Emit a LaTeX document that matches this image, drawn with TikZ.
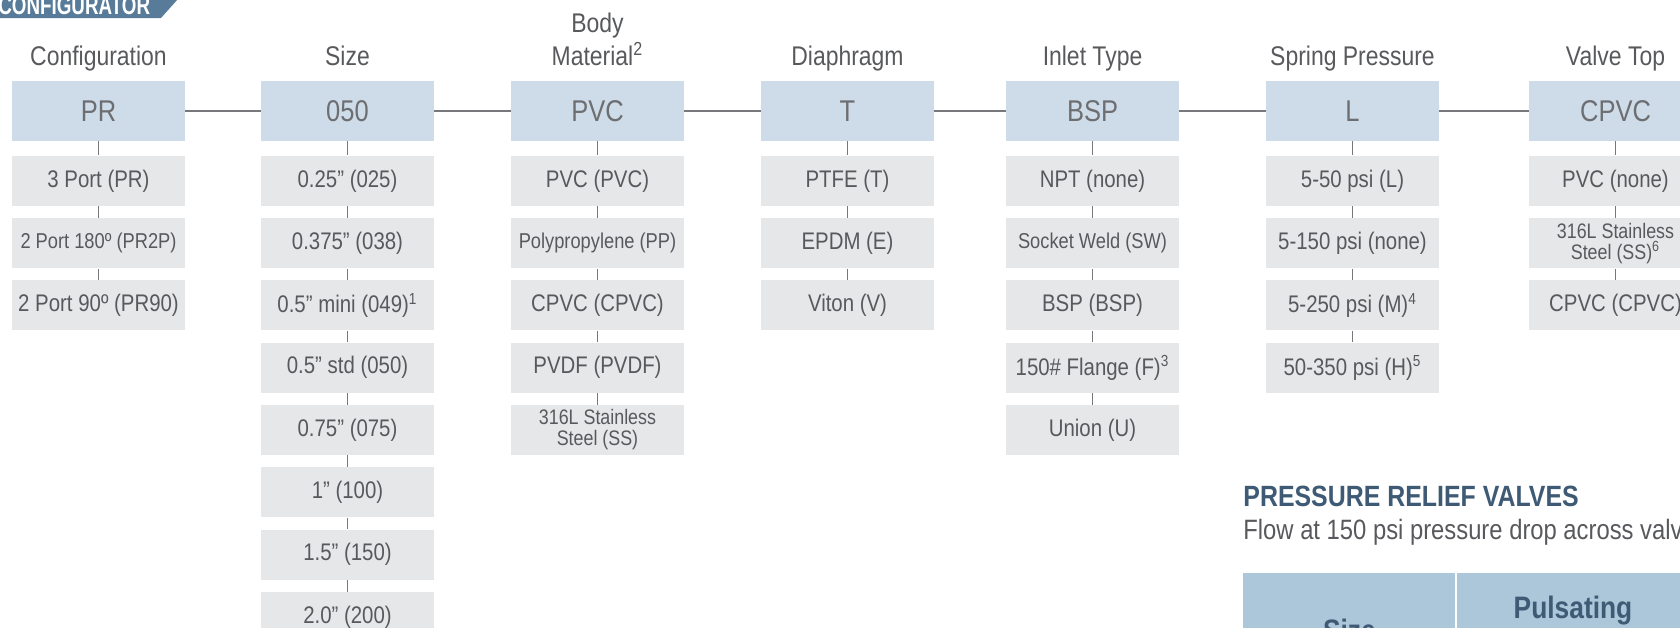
\documentclass[tikz,border=0pt]{standalone}
\usepackage{fontspec}
\setmainfont{Liberation Sans}[FakeStretch=0.85]
\usepackage{tikz}
\usetikzlibrary{positioning}
\definecolor{hdrblue}{HTML}{CDDCE8}
\definecolor{optgray}{HTML}{E6E7E8}
\definecolor{txtgray}{HTML}{58595C}
\definecolor{hdrtxt}{HTML}{6D6E71}
\definecolor{linegray}{HTML}{77787B}
\definecolor{bannerblue}{HTML}{577B99}
\definecolor{titleblue}{HTML}{3E5A75}
\definecolor{tblblue}{HTML}{ACC6DA}

\begin{document}
\begin{tikzpicture}[x=0.5pt, y=-0.5pt, node distance=5.75pt, hdr/.style={fill=hdrblue,text=hdrtxt,minimum width=86.5pt,minimum height=30pt,inner sep=0pt,font=\fontsize{15}{18}\selectfont}, opt/.style={fill=optgray,text=txtgray,minimum width=86.5pt,minimum height=25pt,inner sep=0pt,align=center,font=\fontsize{12}{14}\selectfont}, optsmall/.style={font=\fontsize{10.75}{12}\selectfont}, twoline/.style={font=\fontsize{10.5}{10.5}\selectfont}, lbl/.style={anchor=south,inner sep=0pt,text depth=0pt,align=center,text=txtgray,font=\fontsize{13.5}{16.5}\selectfont}, link/.style={draw=linegray,line width=0.65pt}]
\useasboundingbox (0,0) rectangle (1680,627);
\clip (0,0) rectangle (1680,627);
\fill[bannerblue] (0,-10) -- (186,-10) -- (161,18) -- (0,18) -- cycle;
\node[anchor=base west,inner sep=0pt,text=white,font=\fontsize{13}{14}\selectfont\bfseries] (banner) at (-2,14) {\scalebox{0.85}[1]{CONFIGURATOR}};
\node[hdr] (pr) at (98.5,111) {PR};
\node[hdr] (sz) at (347.5,111) {050};
\node[hdr] (bm) at (597.5,111) {PVC};
\node[hdr] (dia) at (847.5,111) {T};
\node[hdr] (inl) at (1092.5,111) {BSP};
\node[hdr] (spr) at (1352.5,111) {L};
\node[hdr] (vt) at (1615.5,111) {CPVC};
\node[lbl] (prlbl) at (98.5,66) {Configuration};
\node[lbl] (szlbl) at (347.5,66) {Size};
\node[lbl] (bmlbl) at (597.5,66) {Body\\Material\textsuperscript{2}};
\node[lbl] (dialbl) at (847.5,66) {Diaphragm};
\node[lbl] (inllbl) at (1092.5,66) {Inlet Type};
\node[lbl] (sprlbl) at (1352.5,66) {Spring Pressure};
\node[lbl] (vtlbl) at (1615.5,66) {Valve Top};
\node[opt,below=7pt of pr] (pr1) {3 Port (PR)};
\node[opt,optsmall,below=of pr1] (pr2) {2 Port 180º (PR2P)};
\node[opt,below=of pr2] (pr3) {2 Port 90º (PR90)};
\node[opt,below=7pt of sz] (sz1) {0.25” (025)};
\node[opt,below=of sz1] (sz2) {0.375” (038)};
\node[opt,below=of sz2] (sz3) {0.5” mini (049)\textsuperscript{1}};
\node[opt,below=of sz3] (sz4) {0.5” std (050)};
\node[opt,below=of sz4] (sz5) {0.75” (075)};
\node[opt,below=of sz5] (sz6) {1” (100)};
\node[opt,below=of sz6] (sz7) {1.5” (150)};
\node[opt,below=of sz7] (sz8) {2.0” (200)};
\node[opt,below=7pt of bm] (bm1) {PVC (PVC)};
\node[opt,optsmall,below=of bm1] (bm2) {Polypropylene (PP)};
\node[opt,below=of bm2] (bm3) {CPVC (CPVC)};
\node[opt,below=of bm3] (bm4) {PVDF (PVDF)};
\node[opt,twoline,below=of bm4] (bm5) {316L Stainless\\Steel (SS)};
\node[opt,below=7pt of dia] (dia1) {PTFE (T)};
\node[opt,below=of dia1] (dia2) {EPDM (E)};
\node[opt,below=of dia2] (dia3) {Viton (V)};
\node[opt,below=7pt of inl] (inl1) {NPT (none)};
\node[opt,optsmall,below=of inl1] (inl2) {Socket Weld (SW)};
\node[opt,below=of inl2] (inl3) {BSP (BSP)};
\node[opt,below=of inl3] (inl4) {150\# Flange (F)\textsuperscript{3}};
\node[opt,below=of inl4] (inl5) {Union (U)};
\node[opt,below=7pt of spr] (spr1) {5-50 psi (L)};
\node[opt,below=of spr1] (spr2) {5-150 psi (none)};
\node[opt,below=of spr2] (spr3) {5-250 psi (M)\textsuperscript{4}};
\node[opt,below=of spr3] (spr4) {50-350 psi (H)\textsuperscript{5}};
\node[opt,below=7pt of vt] (vt1) {PVC (none)};
\node[opt,twoline,below=of vt1] (vt2) {316L Stainless\\Steel (SS)\textsuperscript{6}};
\node[opt,below=of vt2] (vt3) {CPVC (CPVC)};
\draw[link] (pr)--(sz);
\draw[link] (sz)--(bm);
\draw[link] (bm)--(dia);
\draw[link] (dia)--(inl);
\draw[link] (inl)--(spr);
\draw[link] (spr)--(vt);
\draw[link] (pr)--(pr1);
\draw[link] (pr1)--(pr2);
\draw[link] (pr2)--(pr3);
\draw[link] (sz)--(sz1);
\draw[link] (sz1)--(sz2);
\draw[link] (sz2)--(sz3);
\draw[link] (sz3)--(sz4);
\draw[link] (sz4)--(sz5);
\draw[link] (sz5)--(sz6);
\draw[link] (sz6)--(sz7);
\draw[link] (sz7)--(sz8);
\draw[link] (bm)--(bm1);
\draw[link] (bm1)--(bm2);
\draw[link] (bm2)--(bm3);
\draw[link] (bm3)--(bm4);
\draw[link] (bm4)--(bm5);
\draw[link] (dia)--(dia1);
\draw[link] (dia1)--(dia2);
\draw[link] (dia2)--(dia3);
\draw[link] (inl)--(inl1);
\draw[link] (inl1)--(inl2);
\draw[link] (inl2)--(inl3);
\draw[link] (inl3)--(inl4);
\draw[link] (inl4)--(inl5);
\draw[link] (spr)--(spr1);
\draw[link] (spr1)--(spr2);
\draw[link] (spr2)--(spr3);
\draw[link] (spr3)--(spr4);
\draw[link] (vt)--(vt1);
\draw[link] (vt1)--(vt2);
\draw[link] (vt2)--(vt3);
\node[anchor=base west,inner sep=0pt,text=titleblue,font=\fontsize{14.65}{16}\selectfont\bfseries] (title) at (1243,506) {PRESSURE RELIEF VALVES};
\node[anchor=base west,inner sep=0pt,text=txtgray,font=\fontsize{14}{16}\selectfont] (subtitle) at (1243,539) {Flow at 150 psi pressure drop across valve};
\node[anchor=north west,fill=tblblue,minimum width=106pt,minimum height=57pt,inner sep=0pt,text=titleblue,font=\fontsize{15.5}{18}\selectfont\bfseries] (sizecell) at (1243,573) {Size};
\node[anchor=north west,fill=tblblue,minimum width=116pt,minimum height=57pt,inner sep=0pt] (pulscell) at (1457,573) {};
\node[anchor=base,inner sep=0pt,text=titleblue,font=\fontsize{15.5}{18}\selectfont\bfseries] (pulstxt) at (1573,618) {Pulsating};
\end{tikzpicture}
\end{document}
